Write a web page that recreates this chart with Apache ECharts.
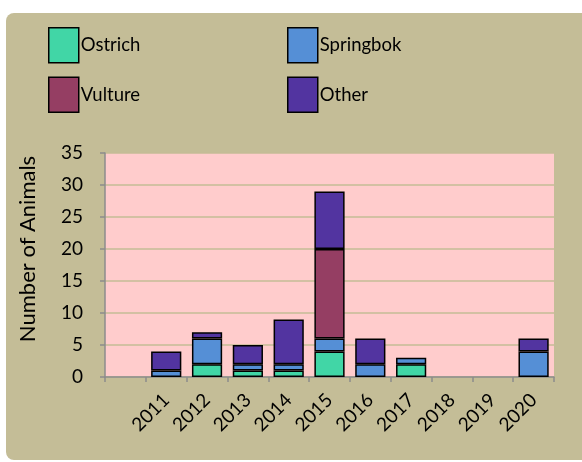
<!DOCTYPE html>
<html>
<head>
<meta charset="utf-8">
<script src="https://cdn.jsdelivr.net/npm/echarts@6/dist/echarts.min.js"></script>
<style>html,body{margin:0;padding:0;background:#fff;}#c{width:582px;height:462px;}</style>
</head>
<body>
<div id="c"></div>
<script>
const categories = ['', '2011', '2012', '2013', '2014', '2015', '2016', '2017', '2018', '2019', '2020'];
const ostrich   = [0, 0, 2, 1, 1, 4, 0, 2, 0, 0, 0];
const springbok = [0, 1, 4, 1, 1, 2, 2, 1, 0, 0, 4];
const vulture   = [0, 0, 0, 0, 0, 14, 0, 0, 0, 0, 0];
const other     = [0, 3, 1, 3, 7, 9, 4, 0, 0, 0, 2];
const yTicks = { min: 0, max: 35, interval: 5 };

const FONT = 'Lato';
const colors = { Ostrich: '#41D6A6', Springbok: '#558FD6', Vulture: '#953E63', Other: '#5234A0' };
const clean = a => a.map(v => (v === 0 ? '-' : v));

function series(name, data) {
  return {
    name, type: 'bar', stack: 'total', data: clean(data),
    barCategoryGap: '26%',
    itemStyle: { color: colors[name], borderColor: '#000', borderWidth: 1.5 },
    emphasis: { disabled: true }
  };
}

const legendBase = {
  orient: 'vertical', top: 27, padding: 0,
  itemWidth: 30, itemHeight: 35, itemGap: 13, icon: 'rect',
  itemStyle: { borderColor: '#000', borderWidth: 1.5 },
  textStyle: { fontFamily: FONT, fontSize: 18.5, color: '#000', padding: [0, 0, 0, -3] },
  selectedMode: false
};

const chart = echarts.init(document.getElementById('c'), null, { renderer: 'canvas' });
chart.setOption({
  animation: false,
  backgroundColor: '#fff',
  graphic: [{
    type: 'rect', z: -10, silent: true,
    shape: { x: 6, y: 13, width: 590, height: 447, r: 8 },
    style: { fill: '#C4BD97' }
  }],
  legend: [
    Object.assign({}, legendBase, { data: ['Ostrich', 'Vulture'], left: 48 }),
    Object.assign({}, legendBase, { data: ['Springbok', 'Other'], left: 287 })
  ],
  grid: { left: 105, right: 28, top: 153, bottom: 85, show: true, backgroundColor: '#FFCCCC', borderWidth: 0 },
  xAxis: {
    type: 'category', data: categories,
    axisLine: { lineStyle: { color: '#8C8C8C', width: 1.5 } },
    axisTick: { show: true, length: 5, lineStyle: { color: '#8C8C8C', width: 1.5 } },
    axisLabel: { rotate: 45, fontFamily: FONT, fontSize: 19, color: '#000', margin: 20, interval: 0 }
  },
  yAxis: {
    type: 'value', min: yTicks.min, max: yTicks.max, interval: yTicks.interval,
    name: 'Number of Animals', nameLocation: 'middle', nameGap: 66,
    nameTextStyle: { fontFamily: FONT, fontSize: 22, color: '#000', padding: [0, 0, 0, 32] },
    axisLine: { show: true, lineStyle: { color: '#8C8C8C', width: 1.5 } },
    axisTick: { show: true, length: 5, lineStyle: { color: '#8C8C8C', width: 1.5 } },
    axisLabel: { fontFamily: FONT, fontSize: 19, color: '#000', margin: 22 },
    splitLine: { lineStyle: { color: '#C4BC96', width: 1.5 } }
  },
  series: [
    series('Ostrich', ostrich),
    series('Springbok', springbok),
    series('Vulture', vulture),
    series('Other', other)
  ]
});
</script>
</body>
</html>
